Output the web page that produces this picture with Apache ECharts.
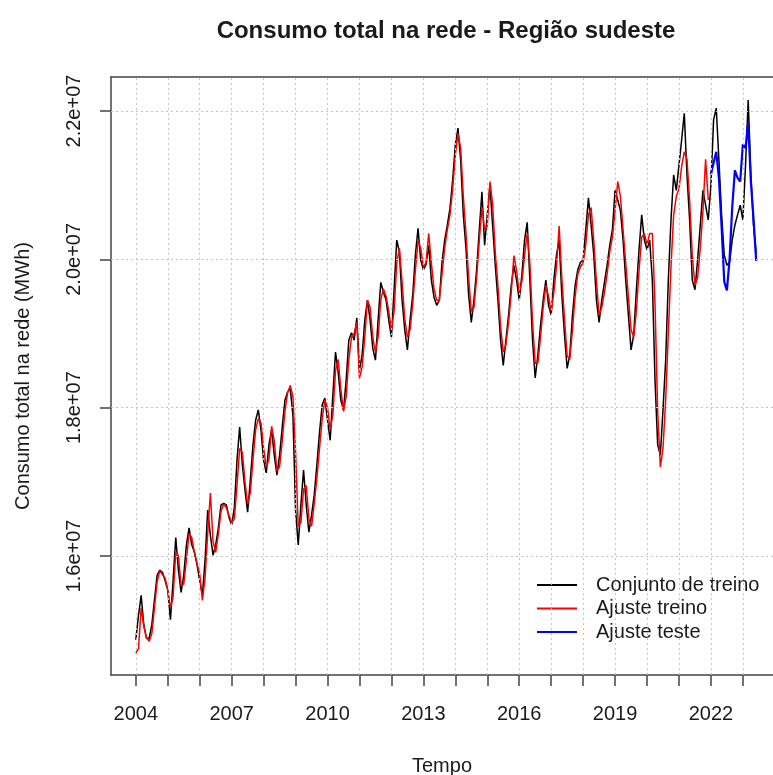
<!DOCTYPE html>
<html>
<head>
<meta charset="utf-8">
<script src="https://cdn.jsdelivr.net/npm/echarts@6/dist/echarts.min.js"></script>
<style>
  html, body { margin: 0; padding: 0; background: #ffffff; }
  #chart { width: 773px; height: 775px; }
</style>
</head>
<body>
<div id="chart"></div>
<script>
// Consumo mensal na rede (milhões de MWh), jan/2004 a jun/2023
const anoInicial = 2004;
const consumoObservado = [
  14.87, 15.20, 15.47, 15.07, 14.89, 14.89, 15.07, 15.41, 15.74, 15.81, 15.78, 15.67, // 2004
  15.54, 15.14, 15.67, 16.25, 15.81, 15.51, 15.74, 16.15, 16.38, 16.15, 16.05, 15.88, // 2005
  15.67, 15.47, 15.94, 16.62, 16.28, 16.01, 16.15, 16.38, 16.69, 16.71, 16.69, 16.52, // 2006
  16.42, 16.65, 17.29, 17.74, 17.23, 16.89, 16.59, 17.02, 17.50, 17.83, 17.97, 17.70, // 2007
  17.29, 17.12, 17.50, 17.70, 17.36, 17.09, 17.36, 17.74, 18.10, 18.21, 18.26, 17.90, // 2008
  16.62, 16.15, 16.69, 17.16, 16.69, 16.32, 16.55, 16.82, 17.23, 17.67, 18.04, 18.13, // 2009
  17.83, 17.56, 18.17, 18.75, 18.48, 18.10, 17.97, 18.37, 18.91, 19.01, 18.91, 19.21, // 2010
  18.51, 18.71, 19.18, 19.45, 19.18, 18.80, 18.64, 19.18, 19.69, 19.56, 19.45, 19.18, // 2011
  18.95, 19.59, 20.26, 20.10, 19.45, 19.05, 18.78, 19.18, 19.52, 20.06, 20.42, 19.99, // 2012
  19.86, 19.93, 20.19, 19.72, 19.49, 19.38, 19.45, 19.96, 20.26, 20.46, 20.69, 21.07, // 2013
  21.54, 21.77, 21.34, 20.60, 20.15, 19.52, 19.15, 19.45, 19.86, 20.40, 20.91, 20.19, // 2014
  20.60, 21.00, 20.46, 19.92, 19.45, 18.91, 18.57, 18.91, 19.25, 19.65, 19.92, 19.72, // 2015
  19.45, 19.79, 20.26, 20.50, 19.72, 18.91, 18.40, 18.71, 19.11, 19.45, 19.72, 19.38, // 2016
  19.25, 19.72, 20.06, 20.26, 19.52, 18.98, 18.53, 18.71, 19.25, 19.65, 19.86, 19.96, // 2017
  19.99, 20.40, 20.83, 20.46, 20.06, 19.45, 19.15, 19.45, 19.69, 19.92, 20.19, 20.40, // 2018
  20.93, 20.80, 20.66, 20.26, 19.72, 19.25, 18.78, 18.98, 19.59, 20.13, 20.60, 20.26, // 2019
  20.13, 20.26, 19.72, 18.37, 17.50, 17.36, 17.97, 18.64, 19.72, 20.53, 21.14, 20.93, // 2020
  21.27, 21.61, 21.97, 21.14, 20.53, 19.72, 19.59, 19.99, 20.46, 20.93, 20.73, 20.53, // 2021
  21.00, 21.88, 22.04, 21.34, 20.60, 20.06, 19.92, 19.96, 20.26, 20.46, 20.60, 20.73, // 2022
  20.53, 21.27, 22.15, 21.14, 20.46, 20.08                                              // 2023
];

// Valores ajustados pelo modelo no período de treino (2004 a 2021)
const ajusteTreino = [
  14.69, 14.75, 15.30, 15.05, 14.90, 14.85, 14.95, 15.30, 15.65, 15.80, 15.75, 15.70,
  15.55, 15.30, 15.45, 16.05, 16.00, 15.60, 15.62, 15.95, 16.30, 16.25, 16.05, 15.90,
  15.75, 15.40, 15.70, 16.30, 16.85, 16.20, 16.05, 16.30, 16.60, 16.70, 16.65, 16.55,
  16.45, 16.50, 16.95, 17.45, 17.40, 17.00, 16.70, 16.85, 17.30, 17.70, 17.85, 17.80,
  17.45, 17.20, 17.30, 17.75, 17.55, 17.15, 17.20, 17.55, 17.95, 18.20, 18.30, 18.15,
  17.40, 16.40, 16.45, 16.90, 16.95, 16.50, 16.40, 16.70, 17.05, 17.45, 17.85, 18.10,
  18.00, 17.70, 17.90, 18.50, 18.65, 18.25, 17.95, 18.15, 18.65, 18.95, 19.00, 19.15,
  18.40, 18.55, 18.95, 19.45, 19.35, 18.95, 18.75, 18.95, 19.45, 19.60, 19.50, 19.30,
  19.05, 19.30, 19.95, 20.15, 19.70, 19.20, 18.95, 19.05, 19.40, 19.85, 20.25, 20.15,
  19.90, 19.95, 20.35, 19.95, 19.60, 19.45, 19.45, 19.80, 20.15, 20.40, 20.60, 20.95,
  21.40, 21.70, 21.50, 20.85, 20.35, 19.75, 19.30, 19.35, 19.75, 20.25, 20.70, 20.40,
  20.45, 21.05, 20.75, 20.10, 19.65, 19.10, 18.75, 18.85, 19.15, 19.55, 20.05, 19.85,
  19.55, 19.70, 20.05, 20.35, 19.95, 19.15, 18.60, 18.60, 18.95, 19.35, 19.65, 19.50,
  19.30, 19.55, 19.90, 20.45, 19.75, 19.20, 18.70, 18.65, 19.05, 19.50, 19.80, 19.90,
  19.95, 20.20, 20.60, 20.70, 20.25, 19.70, 19.25, 19.35, 19.55, 19.80, 20.10, 20.30,
  20.65, 21.05, 20.85, 20.40, 19.95, 19.50, 19.05, 18.95, 19.30, 19.85, 20.30, 20.35,
  20.20, 20.35, 20.35, 19.40, 17.95, 17.20, 17.45, 18.10, 19.00, 19.90, 20.60, 20.85,
  20.95, 21.25, 21.45, 21.35, 20.80, 20.05, 19.65, 19.75, 20.15, 20.65, 21.35, 20.80
];

// Previsão do modelo no período de teste (jan/2022 a jun/2023)
const inicioTeste = 2022;
const ajusteTeste = [
  21.15, 21.30, 21.45, 21.10, 20.45, 19.70, 19.58, 20.00, 20.70, 21.20, 21.10, 21.05,
  21.55, 21.50, 21.85, 21.05, 20.55, 19.98
];

const anosTicks = [2004, 2005, 2006, 2007, 2008, 2009, 2010, 2011, 2012, 2013,
                   2014, 2015, 2016, 2017, 2018, 2019, 2020, 2021, 2022, 2023];
const anosRotulos = [2004, 2007, 2010, 2013, 2016, 2019, 2022];
const consumoTicks = [1.6e7, 1.8e7, 2.0e7, 2.2e7];

const nomes = ['Conjunto de treino', 'Ajuste treino', 'Ajuste teste'];

// série mensal -> pares [tempo decimal, MWh]
function mensal(valores, inicio) {
  return valores.map((v, i) => [inicio + i / 12, v * 1e6]);
}

const fonte = '"Liberation Sans", Arial, sans-serif';
const corTexto = '#1a1a1a';
const corEixo = '#444444';

const chart = echarts.init(document.getElementById('chart'), null, { renderer: 'canvas' });

chart.setOption({
  animation: false,
  backgroundColor: '#ffffff',
  textStyle: { fontFamily: fonte },
  title: {
    text: 'Consumo total na rede - Região sudeste',
    left: 446,
    top: 19,
    padding: 0,
    textAlign: 'center',
    textStyle: { fontFamily: fonte, fontSize: 24, fontWeight: 'bold', color: corTexto }
  },
  // a área de plotagem continua além da borda direita da página
  grid: {
    left: 111, top: 77, right: 0, height: 598,
    containLabel: false, outerBoundsMode: 'none'
  },
  xAxis: [
    {
      type: 'value',
      min: 2003.223, max: 2023.943,
      name: 'Tempo',
      nameLocation: 'middle',
      nameGap: 81,
      nameTextStyle: { fontFamily: fonte, fontSize: 20, color: corTexto },
      axisLine: { show: true, onZero: false, lineStyle: { color: corEixo, width: 1.5 } },
      splitLine: { show: false },
      axisTick: {
        show: true, inside: false, length: 11,
        customValues: anosTicks,
        lineStyle: { color: corEixo, width: 1.5 }
      },
      axisLabel: {
        customValues: anosRotulos,
        margin: 29,
        fontSize: 20, color: corTexto, fontFamily: fonte,
        formatter: v => String(Math.round(v))
      }
    },
    {
      // borda superior da caixa
      type: 'value', position: 'top',
      min: 2003.223, max: 2023.943,
      axisLine: { show: true, onZero: false, lineStyle: { color: corEixo, width: 1.5 } },
      axisTick: { show: false }, axisLabel: { show: false }, splitLine: { show: false }
    }
  ],
  yAxis: {
    type: 'value',
    min: 14.395e6, max: 22.459e6,
    name: 'Consumo total na rede (MWh)',
    nameLocation: 'middle',
    nameGap: 78,
    nameTextStyle: { fontFamily: fonte, fontSize: 20, color: corTexto },
    axisLine: { show: true, onZero: false, lineStyle: { color: corEixo, width: 1.5 } },
    splitLine: { show: false },
    axisTick: {
      show: true, inside: false, length: 11,
      customValues: consumoTicks,
      lineStyle: { color: corEixo, width: 1.5 }
    },
    axisLabel: {
      customValues: consumoTicks,
      rotate: 90,
      margin: 27,
      fontSize: 20, color: corTexto, fontFamily: fonte,
      formatter: v => (v / 1e7).toFixed(1) + 'e+07'
    }
  },
  legend: {
    data: nomes,
    orient: 'vertical',
    left: 537, top: 575,
    padding: 0,
    icon: 'rect',
    itemWidth: 40, itemHeight: 2, itemGap: 3.5,
    selectedMode: false,
    formatter: nome => '{g|}' + nome,
    textStyle: {
      fontFamily: fonte, fontSize: 20, color: corTexto,
      rich: { g: { width: 14 } }
    }
  },
  series: [
    {
      // linhas de grade pontilhadas nos anos e nos ticks do eixo y
      name: 'grade',
      type: 'line',
      data: [],
      silent: true,
      z: 1,
      markLine: {
        silent: true,
        symbol: 'none',
        label: { show: false },
        animation: false,
        lineStyle: { type: [2, 3], color: '#c4c4c4', width: 1 },
        emphasis: { disabled: true },
        data: anosTicks.map(a => ({ xAxis: a })).concat(consumoTicks.map(v => ({ yAxis: v })))
      }
    },
    {
      name: nomes[0], type: 'line', z: 2,
      data: mensal(consumoObservado, anoInicial),
      symbol: 'none', color: '#000000',
      lineStyle: { color: '#000000', width: 1.5 }
    },
    {
      name: nomes[1], type: 'line', z: 3,
      data: mensal(ajusteTreino, anoInicial),
      symbol: 'none', color: '#ff0000',
      lineStyle: { color: '#ff0000', width: 1.5 }
    },
    {
      name: nomes[2], type: 'line', z: 4,
      data: mensal(ajusteTeste, inicioTeste),
      symbol: 'none', color: '#0000ff',
      lineStyle: { color: '#0000ff', width: 2.2 }
    }
  ]
});
</script>
</body>
</html>
